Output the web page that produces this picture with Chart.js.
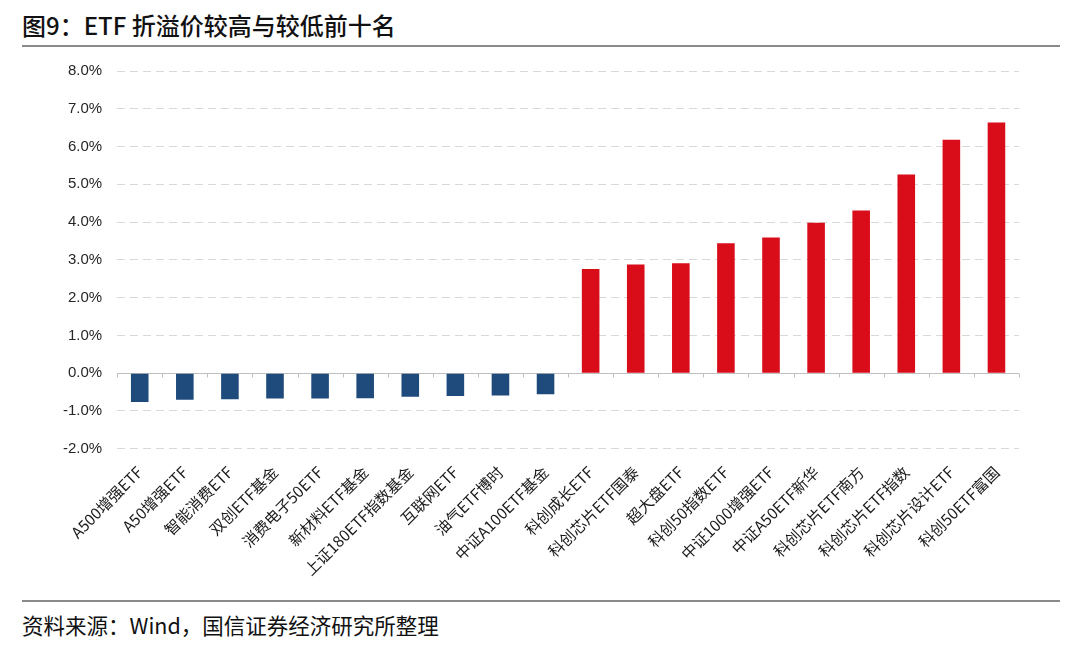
<!DOCTYPE html>
<html>
<head>
<meta charset="utf-8">
<script src="https://cdn.jsdelivr.net/npm/chart.js@4/dist/chart.umd.min.js"></script>
<style>
  html, body { margin: 0; padding: 0; background: #fff; }
  body { width: 1080px; height: 649px; position: relative; overflow: hidden; font-family: "Noto Sans CJK SC", sans-serif; }
  #title { position: absolute; left: 22px; top: 7px; font-size: 24px; font-weight: 500; color: #111; white-space: nowrap; }
  #source { position: absolute; left: 22px; top: 614px; font-size: 21.5px; color: #111; white-space: nowrap; line-height: 1; }
  .rule { position: absolute; left: 22px; width: 1038px; height: 2px; background: #8a8a8a; }
  #wrap { position: absolute; left: 0; top: 47px; width: 1080px; height: 551px; }
</style>
</head>
<body>
<div id="title">图9：ETF 折溢价较高与较低前十名</div>
<div class="rule" style="top:45px"></div>
<div id="wrap"><canvas id="chart"></canvas></div>
<div class="rule" style="top:600px"></div>
<div id="source">资料来源：Wind，国信证券经济研究所整理</div>
<script>
// 折溢价率 (%)
const names = [
    'A500增强ETF', 'A50增强ETF', '智能消费ETF', '双创ETF基金', '消费电子50ETF',
    '新材料ETF基金', '上证180ETF指数基金', '互联网ETF', '油气ETF博时', '中证A100ETF基金',
    '科创成长ETF', '科创芯片ETF国泰', '超大盘ETF', '科创50指数ETF', '中证1000增强ETF',
    '中证A50ETF新华', '科创芯片ETF南方', '科创芯片ETF指数', '科创芯片设计ETF', '科创50ETF富国'
];
const premium = [
    -0.76, -0.70, -0.69, -0.67, -0.67, -0.66, -0.62, -0.60, -0.59, -0.56,
    2.76, 2.88, 2.91, 3.44, 3.59, 3.98, 4.31, 5.26, 6.18, 6.64
];
const yTicks = [-2, -1, 0, 1, 2, 3, 4, 5, 6, 7, 8];

const blue = '#1f4a7c';
const red = '#d90d19';

// zero axis line with small tick marks between categories
const zeroAxis = {
    id: 'zeroAxis',
    beforeDatasetsDraw(chart) {
        const { ctx, scales: { x, y } } = chart;
        const y0 = Math.round(y.getPixelForValue(0)) + 0.5;
        ctx.save();
        ctx.strokeStyle = '#bfbfbf';
        ctx.lineWidth = 1;
        ctx.beginPath();
        ctx.moveTo(x.left, y0);
        ctx.lineTo(x.right, y0);
        for (let i = 0; i <= names.length; i++) {
            const px = Math.round(x.left + (x.right - x.left) * i / names.length) + 0.5;
            ctx.moveTo(px, y0);
            ctx.lineTo(px, y0 + 4);
        }
        ctx.stroke();
        ctx.restore();
    }
};

const ctx = document.getElementById('chart').getContext('2d');
new Chart(ctx, {
    type: 'bar',
    data: {
        labels: names,
        datasets: [{
            data: premium,
            backgroundColor: premium.map(v => v < 0 ? blue : red),
            barPercentage: 0.78,
            categoryPercentage: 0.5
        }]
    },
    options: {
        responsive: true,
        maintainAspectRatio: false,
        animation: false,
        layout: { padding: { left: 48, right: 61, top: 9, bottom: 13 } },
        plugins: {
            legend: { display: false },
            tooltip: { enabled: false }
        },
        scales: {
            x: {
                grid: { display: false },
                border: { display: false },
                ticks: {
                    minRotation: 45,
                    maxRotation: 45,
                    autoSkip: false,
                    padding: 6,
                    color: '#1a1a1a',
                    font: { family: '"Noto Sans CJK SC", sans-serif', size: 15.5 }
                }
            },
            y: {
                min: -2,
                max: 8,
                afterBuildTicks(scale) {
                    scale.ticks = yTicks.map(v => ({ value: v }));
                },
                grid: {
                    drawTicks: false,
                    color: c => c.tick && c.tick.value === 0 ? 'rgba(0,0,0,0)' : '#d9d9d9',
                    lineWidth: 1
                },
                border: { display: false, dash: [8, 5] },
                ticks: {
                    padding: 15,
                    color: '#262626',
                    font: { family: '"Liberation Sans", Arial, sans-serif', size: 15 },
                    callback: v => v.toFixed(1) + '%'
                }
            }
        }
    },
    plugins: [zeroAxis]
});
</script>
</body>
</html>
